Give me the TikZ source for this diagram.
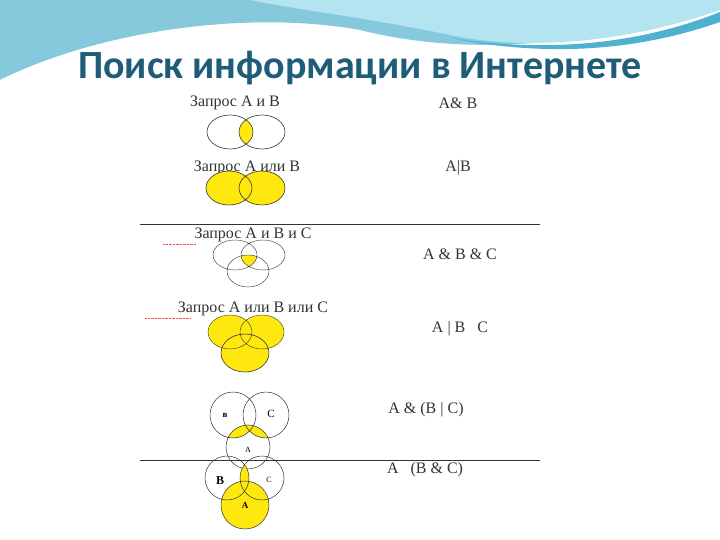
\documentclass[tikz,border=0pt]{standalone}
\usepackage{fontspec}
\setmainfont{Liberation Serif}
\newfontfamily\titlefont{Carlito}
\definecolor{wave1}{HTML}{86C8DC}
\definecolor{wave2}{HTML}{B3E4EF}
\definecolor{wave3}{HTML}{4FB0D0}
\definecolor{titlec}{HTML}{1E5C78}
\begin{document}
\begin{tikzpicture}[x=1pt,y=-1pt,
  lab/.style={font=\fontsize{16}{16}\selectfont, text=black!80, inner sep=0pt},
  sm/.style={font=\bfseries\fontsize{9}{9}\selectfont, inner sep=0pt},
  ol/.style={draw=black!80, line width=0.6pt},
  yf/.style={fill=yellow!90!orange!95!white}]
\useasboundingbox (0,0) rectangle (720,540);
\fill[white] (0,0) rectangle (720,540);
% top waves
\fill[wave1] (0,0) -- (720,0) -- (720,10) .. controls (600,40) and (480,60) .. (360,30) .. controls (250,10) and (100,30) .. (0,80) -- cycle;
\fill[wave2] (250,0) -- (720,0) -- (720,10) .. controls (620,45) and (520,50) .. (450,35) .. controls (380,20) and (300,10) .. (250,0) -- cycle;
\fill[wave3] (450,38) .. controls (560,55) and (650,40) .. (720,12) -- (720,22) .. controls (640,50) and (550,58) .. (450,38) -- cycle;
\fill[white] (0,80) .. controls (100,32) and (250,14) .. (360,32) -- (360,40) .. controls (250,24) and (100,45) .. (0,95) -- cycle;
\node[font=\titlefont\bfseries\fontsize{40}{40}\selectfont, text=titlec] (title) at (360,68) {Поиск информации в Интернете};
% panel
\fill[white] (140,93) rectangle (540,532);
% row 1
\node[lab] (q1) at (235,103) {Запрос А и В};
\node[lab] (r1) at (458,103) {А\&\ В};
\begin{scope}\clip (230,132) ellipse (23 and 17); \fill[yf] (262,132) ellipse (23 and 17);\end{scope}
\draw[ol] (230,132) ellipse (23 and 17) (262,132) ellipse (23 and 17);
% row 2
\node[lab] (q2) at (247,168) {Запрос А или В};
\node[lab] (r2) at (458,168) {А|В};
\fill[yf] (229,188) ellipse (23 and 17) (262,188) ellipse (23 and 17);
\draw[ol] (229,188) ellipse (23 and 17) (262,188) ellipse (23 and 17);
\draw[black!80] (140,224) -- (540,224);
% row 3
\node[lab] (q3) at (253,235) {Запрос А и В и С};
\draw[red!70, densely dotted] (163,244) -- (196,244);
\node[lab] (r3) at (460,254) {А \& В \& С};
\begin{scope}\clip (235,255) ellipse (22 and 15); \clip (263,255) ellipse (22 and 15); \fill[yf] (248,271) ellipse (21 and 16);\end{scope}
\draw[ol,line width=0.4pt] (235,255) ellipse (22 and 15) (263,255) ellipse (22 and 15) (248,271) ellipse (21 and 16);
% row 4
\node[lab] (q4) at (253,309) {Запрос А или В или С};
\draw[red!70, densely dotted] (145,318) -- (190,318);
\node[lab] (r4) at (460,329) {А | В \ \ С};
\fill[yf] (230,332) ellipse (22 and 17) (262,332) ellipse (22 and 17) (245,353) ellipse (24 and 19);
\draw[ol,line width=0.4pt] (230,332) ellipse (22 and 17) (262,332) ellipse (22 and 17);
\draw[ol] (245,353) ellipse (24 and 19);
% row 5
\node[lab] (r5) at (426,410) {А \& (В | С)};
\begin{scope}\clip (248,447) circle (22); \fill[yf] (233,415) circle (23) (266,415) circle (23);\end{scope}
\draw[ol,line width=0.5pt] (233,415) circle (23) (266,415) circle (23) (248,447) circle (22);
\node[sm] (b5) at (225,415) {в};
\node[sm, font=\fontsize{11}{11}\selectfont] (c5) at (271,414) {С};
\node[sm, font=\fontsize{8}{8}\selectfont] (a5) at (248,450) {А};
\draw[black!80] (140,460) -- (540,460);
% row 6
\node[lab] (r6) at (425,470) {А \ \ (В \& С)};
\begin{scope}\clip (227,478) circle (22); \fill[yf] (262,478) circle (22);\end{scope}
\fill[yf] (245,505) circle (24);
\draw[ol,line width=0.5pt] (227,478) circle (22) (262,478) circle (22) (245,505) circle (24);
\node[sm, font=\bfseries\fontsize{12}{12}\selectfont] (b6) at (220,481) {В};
\node[sm, font=\fontsize{8}{8}\selectfont] (c6) at (269,480) {С};
\node[sm] (a6) at (245,506) {А};
\end{tikzpicture}
\end{document}
